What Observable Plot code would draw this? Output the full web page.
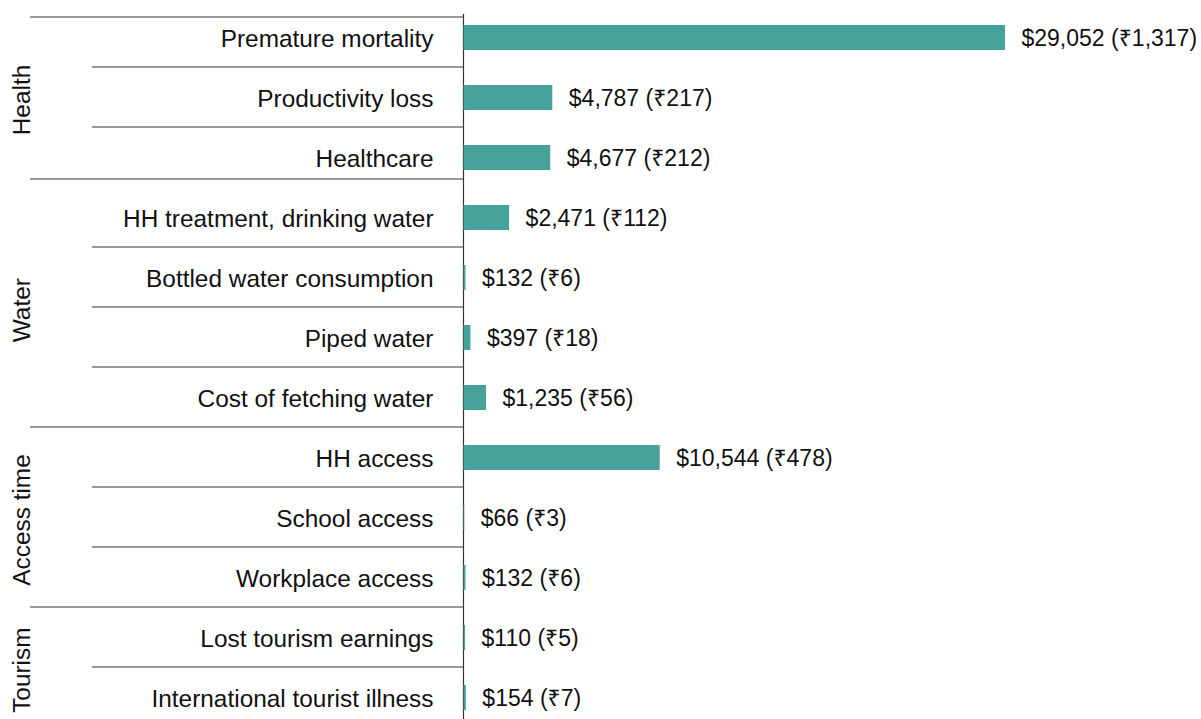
<!DOCTYPE html>
<html>
<head>
<meta charset="utf-8">
<script src="https://cdn.jsdelivr.net/npm/d3@7"></script>
<script src="https://cdn.jsdelivr.net/npm/@observablehq/plot@0.6"></script>
<style>
  html, body { margin: 0; padding: 0; background: #fff; }
  #chart svg { display: block; }
</style>
</head>
<body>
<div id="chart"></div>
<script>
// ---- data ----
const categories = [
  "Premature mortality",
  "Productivity loss",
  "Healthcare",
  "HH treatment, drinking water",
  "Bottled water consumption",
  "Piped water",
  "Cost of fetching water",
  "HH access",
  "School access",
  "Workplace access",
  "Lost tourism earnings",
  "International tourist illness"
];
const groups = [
  "Health", "Health", "Health",
  "Water", "Water", "Water", "Water",
  "Access time", "Access time", "Access time",
  "Tourism", "Tourism"
];
const groupNames = ["Health", "Water", "Access time", "Tourism"];
const usdValues = [29052, 4787, 4677, 2471, 132, 397, 1235, 10544, 66, 132, 110, 154];
const inrValues = [1317, 217, 212, 112, 6, 18, 56, 478, 3, 6, 5, 7];

// separators: drawn below these rows
const innerBreaks = [
  "Premature mortality", "Productivity loss",
  "HH treatment, drinking water", "Bottled water consumption", "Piped water",
  "HH access", "School access",
  "Lost tourism earnings"
];
const groupBreaks = ["Cost of fetching water", "Workplace access"];
const healthBreak = ["Healthcare"];
const topBreak = ["Premature mortality"];

// ---- layout ----
const width = 1201, height = 719;
const marginLeft = 463, marginRight = 196;
const yRange = [5.82, 730.18];
const step = (yRange[1] - yRange[0]) / categories.length;
const barColor = "#47a29e";
const lineColor = "#333333";
const font = "'Liberation Sans', Arial, 'Noto Sans', 'DejaVu Sans', sans-serif";
const xMax = d3.max(usdValues);
// convert a pixel distance to the left of the bar baseline into x-units
const pxToX = px => -px * xMax / (width - marginLeft - marginRight);

const data = categories.map((name, i) => ({
  name, group: groups[i], usd: usdValues[i], inr: inrValues[i]
}));
const fmt = d3.format(",");

const groupLabelMarks = groupNames.map(g => {
  const idx = groups.map((d, i) => d === g ? i : -1).filter(i => i >= 0);
  const mid = (idx[0] + idx[idx.length - 1]) / 2;
  const anchor = Math.floor(mid);
  return Plot.text([g], {
    y: [categories[anchor]],
    text: d => d,
    frameAnchor: "left",
    dx: -441,
    dy: (mid - anchor) * step + 1,
    rotate: -90,
    textAnchor: "middle",
    fontSize: 24.4,
    fill: "#111"
  });
});

const sep = (rows, px, dy) => Plot.ruleY(rows, {
  y: d => d, x1: pxToX(px), x2: 0, dy,
  stroke: lineColor, strokeWidth: 1.2
});

const chart = Plot.plot({
  width, height,
  marginLeft, marginRight,
  marginTop: 14,
  marginBottom: 0,
  style: { fontFamily: font, background: "#fff", color: "#111" },
  x: { domain: [0, xMax], axis: null },
  y: {
    type: "band",
    domain: categories,
    range: yRange,
    paddingInner: 0.59,
    paddingOuter: 0.295,
    axis: null
  },
  marks: [
    Plot.ruleX([0], { stroke: lineColor, strokeWidth: 1.2 }),
    Plot.barX(data, { x: "usd", y: "name", fill: barColor, dy: -1, insetLeft: 0.6 }),
    sep(innerBreaks, 371, 28),
    sep(groupBreaks, 433, 28),
    sep(healthBreak, 433, 20),
    sep(topBreak, 433, -22),
    Plot.text(data, {
      x: 0, y: "name", text: "name",
      textAnchor: "end", dx: -30, fontSize: 24.4, fill: "#111"
    }),
    Plot.text(data, {
      x: "usd", y: "name",
      text: d => `$${fmt(d.usd)} (₹${fmt(d.inr)})`,
      textAnchor: "start", dx: 16, fontSize: 23, fill: "#111"
    }),
    ...groupLabelMarks
  ]
});
document.getElementById("chart").appendChild(chart);
</script>
</body>
</html>
